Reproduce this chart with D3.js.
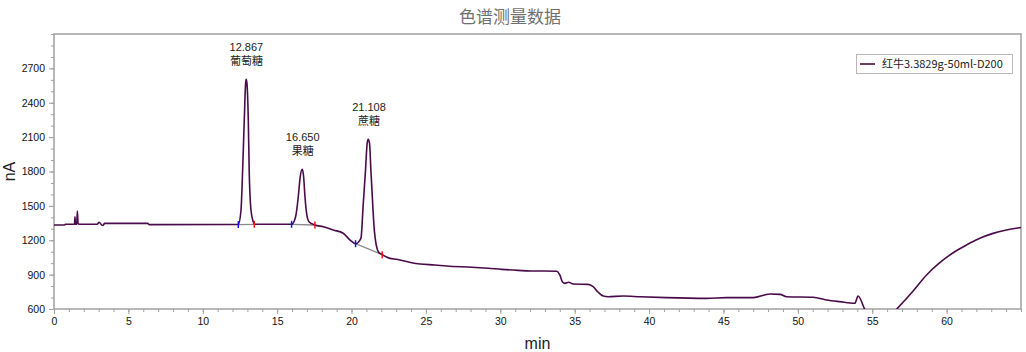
<!DOCTYPE html>
<html><head><meta charset="utf-8">
<script src="https://cdn.jsdelivr.net/npm/d3@7"></script>
<style>body{margin:0;background:#fff}svg{display:block}</style>
</head><body>
<svg id="chart" width="1026" height="352"></svg>
<script>
// ---- data ----
const chartTitle = "色谱测量数据";
const seriesName = "红牛3.3829g-50ml-D200";
const xLabel = "min";
const yLabel = "nA";
const xDomain = [0, 65];
const yDomain = [600, 3000];
const xTickValues = [0, 5, 10, 15, 20, 25, 30, 35, 40, 45, 50, 55, 60];
const yTickValues = [600, 900, 1200, 1500, 1800, 2100, 2400, 2700];

const times = [0, 0.72, 0.76, 1.38, 1.41, 1.44, 1.53, 1.57, 1.62, 1.7, 2.9, 3.04, 3.2, 3.3, 3.4, 6.3, 6.4,
  12.39, 12.57, 12.68, 12.79, 12.88, 12.92, 12.97, 13.06, 13.12, 13.24, 13.39, 13.5,
  15.97, 16.24, 16.42, 16.55, 16.69, 16.78, 16.87, 16.98, 17.14, 17.54,
  18.1, 18.77, 19.44, 19.9, 20.27, 20.63, 20.79, 20.94, 21.05, 21.12, 21.21, 21.3, 21.42, 21.53, 21.8, 22.06,
  22.58, 23.03, 24.04, 24.6, 25.6, 26.4, 28.07, 29.19, 30.09, 30.87, 32.1, 33.78,
  34.0, 34.18, 34.34, 34.6, 34.9, 35.9, 36.24, 36.58, 36.92, 37.25, 38.26, 39.38, 41.17, 43.86, 45.2, 47.0,
  48.12, 48.8, 49.24, 51.03, 51.93, 52.82, 53.83, 54.05, 54.5, 55.5, 56.63,
  57.75, 58.65, 59.54, 60.44, 61.33, 62.23, 63.12, 64.02, 64.9, 65];
const signal = [1333, 1333, 1339, 1339, 1405, 1340, 1340, 1455, 1345, 1340, 1340, 1357, 1335, 1329, 1347, 1347, 1336,
  1337, 1464, 1813, 2249, 2569, 2604, 2569, 2249, 1813, 1464, 1362, 1339,
  1339, 1405, 1580, 1754, 1819, 1754, 1580, 1435, 1362, 1333,
  1318, 1289, 1261, 1202, 1170, 1217, 1522, 1813, 2046, 2081, 2046, 1813, 1522, 1289, 1100, 1074,
  1042, 1034, 1004, 993, 984, 975, 964, 955, 946, 940, 932, 930,
  897, 836, 824, 833, 818, 815, 795, 746, 713, 707, 713, 707, 699, 693, 699, 699,
  731, 728, 707, 702, 679, 664, 650, 713, 597, 450, 597,
  757, 897, 1004, 1091, 1158, 1217, 1260, 1289, 1309, 1311];

const peakTimes = [12.867, 16.650, 21.108];
const peakLabels = ["12.867", "16.650", "21.108"];
const peakNames = ["葡萄糖", "果糖", "蔗糖"];
const peakHeights = [2604, 1819, 2081];
const baseStartT = [12.39, 15.97, 20.27];
const baseStartV = [1337, 1339, 1170];
const baseEndT = [13.46, 17.54, 22.06];
const baseEndV = [1339, 1333, 1074];

// ---- layout ----
const L = 54, R = 1021, T = 34, B = 309;
const lineColor = "#4a0b4a";
const axisColor = "#a0a0a0";
const svg = d3.select("#chart");
const x = d3.scaleLinear().domain(xDomain).range([L, R]);
const y = d3.scaleLinear().domain(yDomain).range([B, T]);

svg.append("defs").append("clipPath").attr("id", "clip")
  .append("rect").attr("x", L).attr("y", T).attr("width", R - L).attr("height", B - T);

// title
svg.append("text").attr("x", 510).attr("y", 23).attr("text-anchor", "middle")
  .style("font-family", "'Noto Sans CJK SC', sans-serif").style("font-size", "17px")
  .attr("fill", "#707070").text(chartTitle);

// frame
svg.append("rect").attr("x", L).attr("y", T).attr("width", R - L).attr("height", B - T)
  .attr("fill", "none").attr("stroke", axisColor).attr("stroke-width", 1.5);

// axes
const fontAxis = "'Liberation Sans', Arial, sans-serif";
const yMinor = d3.range(yDomain[0], yDomain[1] + 1, 100);
const xMinor = d3.range(xDomain[0], xDomain[1] + 1, 1);

const yAxisMinor = d3.axisLeft(y).tickValues(yMinor).tickSize(3).tickFormat("");
const yAxis = d3.axisLeft(y).tickValues(yTickValues).tickSize(5).tickPadding(4).tickFormat(d3.format("d"));
const xAxisMinor = d3.axisBottom(x).tickValues(xMinor).tickSize(3).tickFormat("");
const xAxis = d3.axisBottom(x).tickValues(xTickValues).tickSize(5).tickPadding(4).tickFormat(d3.format("d"));

function styleAxis(g) {
  g.select(".domain").remove();
  g.selectAll(".tick line").attr("stroke", axisColor);
  g.selectAll(".tick text").attr("fill", "#111").style("font-family", fontAxis).style("font-size", "10.5px");
}
svg.append("g").attr("transform", `translate(${L},0)`).call(yAxisMinor).call(styleAxis);
svg.append("g").attr("transform", `translate(${L},0)`).call(yAxis).call(styleAxis);
svg.append("g").attr("transform", `translate(0,${B})`).call(xAxisMinor).call(styleAxis);
svg.append("g").attr("transform", `translate(0,${B})`).call(xAxis).call(styleAxis);

// axis labels
svg.append("text").attr("x", (L + R) / 2).attr("y", 349).attr("text-anchor", "middle")
  .style("font-family", fontAxis).style("font-size", "16px").attr("fill", "#222").text(xLabel);
svg.append("text").attr("transform", `translate(15,${(T + B) / 2}) rotate(-90)`).attr("text-anchor", "middle")
  .style("font-family", fontAxis).style("font-size", "16px").attr("fill", "#222").text(yLabel);

// baselines
const plot = svg.append("g").attr("clip-path", "url(#clip)");
const idx = d3.range(peakTimes.length);
plot.selectAll(".bl").data(idx).join("line")
  .attr("x1", i => x(baseStartT[i])).attr("y1", i => y(baseStartV[i]))
  .attr("x2", i => x(baseEndT[i])).attr("y2", i => y(baseEndV[i]))
  .attr("stroke", "#8a8a8a").attr("stroke-width", 1.3);

// trace
const pts = times.map((t, i) => [t, signal[i]]);
const line = d3.line().x(d => x(d[0])).y(d => y(d[1])).curve(d3.curveMonotoneX);
plot.append("path").datum(pts).attr("d", line).attr("fill", "none")
  .attr("stroke", lineColor).attr("stroke-width", 1.6);

// markers
plot.selectAll(".ms").data(idx).join("line")
  .attr("x1", i => x(baseStartT[i])).attr("x2", i => x(baseStartT[i]))
  .attr("y1", i => y(baseStartV[i]) - 3.5).attr("y2", i => y(baseStartV[i]) + 3.5)
  .attr("stroke", "#1010ff").attr("stroke-width", 1.5);
plot.selectAll(".me").data(idx).join("line")
  .attr("x1", i => x(baseEndT[i])).attr("x2", i => x(baseEndT[i]))
  .attr("y1", i => y(baseEndV[i]) - 3.5).attr("y2", i => y(baseEndV[i]) + 3.5)
  .attr("stroke", "#ff1010").attr("stroke-width", 1.5);

// peak annotations
const ann = svg.append("g").style("font-size", "11px").attr("fill", "#222").attr("text-anchor", "middle");
ann.selectAll(".pl").data(idx).join("text")
  .attr("x", i => x(peakTimes[i]) + 1).attr("y", i => y(peakHeights[i]) - 28)
  .style("font-family", fontAxis).text(i => peakLabels[i]);
ann.selectAll(".pn").data(idx).join("text")
  .attr("x", i => x(peakTimes[i]) + 1).attr("y", i => y(peakHeights[i]) - 14)
  .style("font-family", "'Noto Sans CJK SC', sans-serif").text(i => peakNames[i]);

// legend
const lg = svg.append("g");
lg.append("rect").attr("x", 856.5).attr("y", 54.5).attr("width", 156).attr("height", 19)
  .attr("fill", "#fff").attr("stroke", "#b8b8b8");
lg.append("line").attr("x1", 860).attr("x2", 875).attr("y1", 64).attr("y2", 64)
  .attr("stroke", lineColor).attr("stroke-width", 1.6);
lg.append("text").attr("x", 882).attr("y", 68).style("font-family", "'Noto Sans CJK SC', sans-serif")
  .style("font-size", "11px").attr("fill", "#222").text(seriesName);
</script>
</body></html>
